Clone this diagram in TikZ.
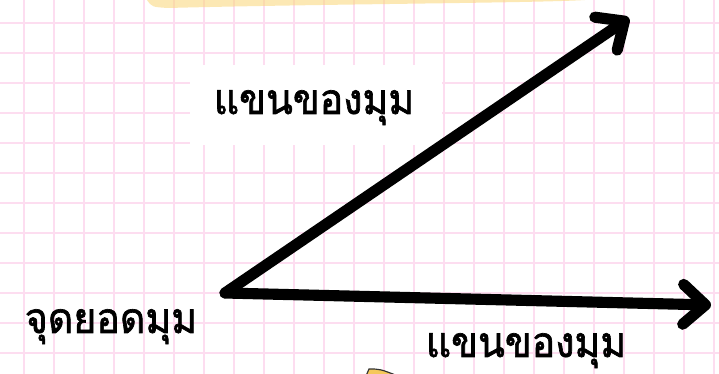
\documentclass[tikz,border=0pt]{standalone}
\usepackage{fontspec}
\newfontfamily\thaifont[Script=Thai,FakeBold=1.6]{Loma}
\usetikzlibrary{arrows.meta}
\definecolor{gridpink}{RGB}{253,221,240}
\definecolor{hlyellow}{RGB}{250,214,120}
\definecolor{pencilyellow}{RGB}{245,200,90}
\tikzset{
  armline/.style={line width=9.5pt, line cap=round, black,
    -{Straight Barb[round, length=19pt, width=34pt]}},
  thailabel/.style={font=\thaifont\fontsize{33.5}{40}\selectfont, inner sep=0pt, anchor=base}
}
\newcommand{\tallthai}[1]{\scalebox{1}[1.08]{#1}}

\begin{document}
\begin{tikzpicture}[x=0.03cm, y=-0.03cm]
  % Paper and bounding box
  \fill[white] (0,0) rectangle (719,374);
  \useasboundingbox (0,0) rectangle (719,374);

  % Draw the pink grid
  \foreach \x in {24,54,...,714}
    \draw[gridpink, line width=0.9pt] (\x,0) -- (\x,374);
  \foreach \y in {23,53,...,353}
    \draw[gridpink, line width=0.9pt] (0,\y) -- (719,\y);

  % Highlighter stroke at the top
  \fill[hlyellow, opacity=0.55] (147,0) -- (585,0)
    .. controls (540,3) and (320,4) .. (168,8)
    .. controls (152,7) .. (147,0) -- cycle;

  % Pencil tip at the bottom
  \filldraw[fill=pencilyellow, draw=black!80, line width=1pt]
    (366,376) -- (369,369) .. controls (380,369) .. (398,376) -- cycle;

  % White patch behind the upper label
  \fill[white] (190,65) rectangle (442,145);

  % Vertex and arms
  \coordinate (vertex) at (225,293);
  \coordinate (armtop) at (629,18);
  \coordinate (armright) at (711,305);
  \draw[armline] (vertex) -- (armtop);
  \draw[armline] (vertex) -- (armright);

  % Labels
  \node[thailabel] (armlabeltop) at (314,114) {\tallthai{แขนของมุม}};
  \node[thailabel] (vertexlabel) at (111,333) {\tallthai{จุดยอดมุม}};
  \node[thailabel] (armlabelright) at (526,357) {\tallthai{แขนของมุม}};
\end{tikzpicture}
\end{document}
